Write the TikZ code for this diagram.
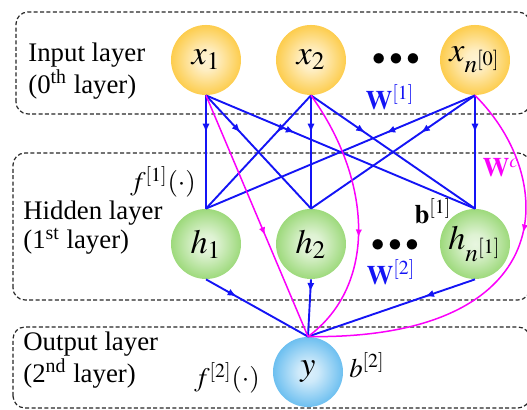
\documentclass[tikz,border=0pt]{standalone}
\usepackage{mathptmx}
\usepackage[no-math]{fontspec}
\setmainfont{Liberation Serif}[Ligatures=TeX]
\usetikzlibrary{arrows.meta,decorations.markings}

\definecolor{ballorange}{RGB}{252,188,18}
\definecolor{ballgreen}{RGB}{125,205,80}
\definecolor{ballblue}{RGB}{60,170,235}
\definecolor{linkblue}{RGB}{20,20,245}
\definecolor{linkmag}{RGB}{250,0,250}

% ball shadings: light centre, saturated rim
\pgfdeclareradialshading{orangeball}{\pgfpoint{0bp}{0bp}}{color(0bp)=(white!82!ballorange); color(7bp)=(white!75!ballorange); color(34bp)=(ballorange); color(50bp)=(ballorange)}
\pgfdeclareradialshading{greenball}{\pgfpoint{0bp}{0bp}}{color(0bp)=(white!82!ballgreen); color(7bp)=(white!75!ballgreen); color(34bp)=(ballgreen); color(50bp)=(ballgreen)}
\pgfdeclareradialshading{blueball}{\pgfpoint{0bp}{0bp}}{color(0bp)=(white!82!ballblue); color(7bp)=(white!75!ballblue); color(34bp)=(ballblue); color(50bp)=(ballblue)}

\tikzset{
  neuron/.style={circle, minimum size=35pt, inner sep=0pt, font=\fontsize{17}{20}\selectfont},
  layerbox/.style={draw=black!85, line width=0.6pt, dash pattern=on 2pt off 1.2pt, rounded corners=6pt},
  layertext/.style={anchor=west, align=left, inner sep=0pt, font=\rmfamily\fontsize{13.4}{14.5}\selectfont},
  mathlbl/.style={inner sep=1pt, font=\fontsize{13.4}{16}\selectfont},
  link/.style={draw=linkblue, line width=0.95pt, postaction={decorate},
    decoration={markings, mark=at position #1 with {\arrow{Latex[length=4.5pt,width=3.6pt]}}}},
  link/.default=0.33,
  skiplink/.style={draw=linkmag, line width=0.75pt, postaction={decorate},
    decoration={markings, mark=at position #1 with {\arrow{Latex[length=4pt,width=3.2pt]}}}},
}

\begin{document}
\begin{tikzpicture}[x=0.5pt, y=0.5pt]
  \useasboundingbox (0,0) rectangle (527,410);

  % Draw the layer frames
  \draw[layerbox] (16,296) rectangle (530,398);
  \draw[layerbox] (13,110) rectangle (530,257);
  \draw[layerbox] (13,2) rectangle (530,83);

  % Layer names
  \node[layertext] (inname) at (28,339) {Input layer\\(0\textsuperscript{th} layer)};
  \node[layertext] (hidname) at (23,182) {Hidden layer\\(1\textsuperscript{st} layer)};
  \node[layertext] (outname) at (23,50) {Output layer\\(2\textsuperscript{nd} layer)};

  % Place the neurons
  \node[neuron, shading=orangeball] (x1) at (206,350) {$x_1$};
  \node[neuron, shading=orangeball] (x2) at (311,350) {$x_2$};
  \node[neuron, shading=orangeball] (xn) at (475,350) {$x_{n^{[0]}}$};
  \node[neuron, shading=greenball] (h1) at (206,166) {$h_1$};
  \node[neuron, shading=greenball] (h2) at (311,166) {$h_2$};
  \node[neuron, shading=greenball] (hn) at (475,166) {$h_{n^{[1]}}$};
  \node[neuron, shading=blueball] (y) at (308,38) {$y$};
  \node[mathlbl, inner sep=0pt] (dots0) at (396,350) {$\bullet\bullet\bullet$};
  \node[mathlbl, inner sep=0pt] (dots1) at (395,164) {$\bullet\bullet\bullet$};

  % Draw arrows input -> hidden
  \foreach \a in {x1,x2,xn}
    \foreach \b in {h1,h2,hn}
      \draw[link] (\a.south) -- (\b.north);

  % Draw arrows hidden -> output
  \draw[link=0.3] (h1.south) -- (y.north);
  \draw[link=0.22] (h2.south) -- (y.north);
  \draw[link=0.3] (hn.south) -- (y.north);

  % Draw skip connections input -> output
  \draw[skiplink=0.58] (x1.south) -- (y.north);
  \draw[skiplink=0.57] (x2.south) .. controls (372,230) and (378,125) .. (y.north);
  \draw[skiplink=0.37] (xn.south) .. controls (560,230) and (560,70) .. (y.north);

  % Weights, biases and activations
  \node[mathlbl, text=linkblue] (w1) at (390,313) {$\mathbf{W}^{[1]}$};
  \node[mathlbl, text=linkblue] (w2) at (391,138) {$\mathbf{W}^{[2]}$};
  \node[mathlbl, text=linkmag] (wc) at (501,242) {$\mathbf{W}^{c}$};
  \node[mathlbl] (b1) at (433,199) {$\mathbf{b}^{[1]}$};
  \node[mathlbl] (b2) at (367,45) {$b^{[2]}$};
  \node[mathlbl] (f1) at (163,228) {$f^{[1]}(\cdot)$};
  \node[mathlbl] (f2) at (227,32) {$f^{[2]}(\cdot)$};
\end{tikzpicture}
\end{document}
